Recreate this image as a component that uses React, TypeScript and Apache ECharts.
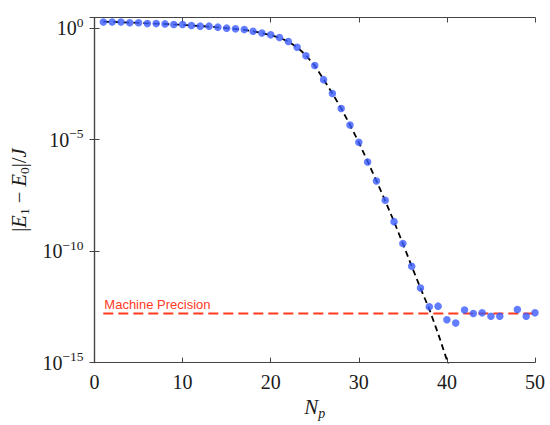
import React, { useEffect, useRef } from "react";
import * as echarts from "echarts";

// Number of parameters N_p
const npValues = [
  1, 2, 3, 4, 5, 6, 7, 8, 9, 10, 11, 12, 13, 14, 15, 16, 17, 18, 19, 20, 21, 22, 23, 24, 25,
  26, 27, 28, 29, 30, 31, 32, 33, 34, 35, 36, 37, 38, 39, 40, 41, 42, 43, 44, 45, 46, 47, 48, 49, 50,
];
// |E1 - E0| / J (blue dots); N_p = 47 has no point
const gapValues = [
  1.9, 1.9, 1.9, 1.73, 1.73, 1.6, 1.6, 1.55, 1.45, 1.45, 1.31, 1.23, 1.23, 1.11, 1.0, 0.93, 0.87,
  0.72, 0.6, 0.5, 0.38, 0.25, 0.14, 0.058, 0.021, 4.9e-3, 1.17e-3, 2.5e-4, 4.5e-5, 7.6e-6, 1.0e-6,
  1.4e-7, 1.9e-8, 2.1e-9, 2.2e-10, 2.1e-11, 2.2e-12, 3.2e-13, 3.4e-13, 8.3e-14, 5.9e-14, 2.3e-13,
  1.6e-13, 1.7e-13, 1.2e-13, 1.2e-13, null, 2.4e-13, 1.2e-13, 1.7e-13,
];
// Fit (black dashed curve)
const fitNp = [
  1, 2, 3, 4, 5, 6, 7, 8, 9, 10, 11, 12, 13, 14, 15, 16, 17, 18, 19, 20, 21, 22, 23, 24, 25, 26,
  27, 28, 29, 30, 31, 32, 33, 34, 35, 36, 37, 38, 39, 40, 41,
];
const fitValues = [
  1.95, 1.9, 1.85, 1.78, 1.72, 1.65, 1.6, 1.53, 1.46, 1.4, 1.32, 1.24, 1.17, 1.09, 1.0, 0.92, 0.84,
  0.72, 0.6, 0.49, 0.37, 0.25, 0.14, 0.06, 0.021, 5e-3, 1.2e-3, 2.5e-4, 4.6e-5, 7.5e-6, 1.05e-6,
  1.4e-7, 1.8e-8, 2.1e-9, 2.2e-10, 2.1e-11, 2.2e-12, 2.5e-13, 2.0e-14, 1.3e-15, 8e-17,
];
// Machine precision level
const precisionRange = [1, 50];
const machinePrecision = 1.6e-13;
const precisionLabel = "Machine Precision";

const xMin = 0;
const xMax = 50;
const xInterval = 10;
const yMin = 1e-15;
const yMax = 3;
const yDecadeStep = 5;

const SERIF = "Liberation Serif";
const SANS = "Liberation Sans";
const AXIS_COLOR = "#444";
const TEXT_COLOR = "#1a1a1a";
const RED = "#ff3a1e";
const BLUE = "#3b5cff";

export default function App() {
  const ref = useRef<HTMLDivElement>(null);

  useEffect(() => {
    document.body.style.margin = "0";
    const chart = echarts.init(ref.current!, null, { renderer: "svg" });

    const yLabelFormatter = (v: number) => {
      const e = Math.log10(v);
      const r = Math.round(e);
      if (Math.abs(e - r) > 1e-6 || r % yDecadeStep !== 0) return "";
      return `{b|10}{s|${r === 0 ? "0" : "\u2212" + Math.abs(r)}}`;
    };

    const tickStyle = { inside: true, length: 5, lineStyle: { color: AXIS_COLOR, width: 1 } };
    const lineStyle = { lineStyle: { color: AXIS_COLOR, width: 1.2 } };

    const option: any = {
      animation: false,
      backgroundColor: "#fff",
      grid: { left: 92, right: 15, top: 17.5, bottom: 61, containLabel: false },
      xAxis: [
        {
          type: "value",
          min: xMin,
          max: xMax,
          interval: xInterval,
          position: "bottom",
          axisLine: lineStyle,
          axisTick: tickStyle,
          splitLine: { show: false },
          axisLabel: {
            margin: 9,
            fontFamily: SERIF,
            fontSize: 20,
            color: TEXT_COLOR,
          },
          name: "{i|N}{sub|p}",
          nameLocation: "middle",
          nameGap: 30,
          nameTextStyle: {
            rich: {
              i: { fontFamily: SERIF, fontStyle: "italic", fontSize: 21, lineHeight: 26, color: TEXT_COLOR },
              sub: {
                fontFamily: SERIF,
                fontStyle: "italic",
                fontSize: 14,
                lineHeight: 16,
                verticalAlign: "bottom",
                color: TEXT_COLOR,
              },
            },
          },
        },
        {
          type: "value",
          min: xMin,
          max: xMax,
          interval: xInterval,
          position: "top",
          axisLine: lineStyle,
          axisTick: tickStyle,
          splitLine: { show: false },
          axisLabel: { show: false },
        },
      ],
      yAxis: [
        {
          type: "log",
          logBase: 10,
          min: yMin,
          max: yMax,
          interval: yDecadeStep,
          position: "left",
          axisLine: { show: true, ...lineStyle },
          axisTick: tickStyle,
          splitLine: { show: false },
          axisLabel: {
            margin: 11,
            formatter: yLabelFormatter,
            rich: {
              b: { fontFamily: SERIF, fontSize: 20, lineHeight: 26, color: TEXT_COLOR },
              s: { fontFamily: SERIF, fontSize: 13.5, lineHeight: 14, verticalAlign: "top", color: TEXT_COLOR },
            },
          },
          name: "{r||}{i|E}{sub|1}{r| \u2212 }{i|E}{sub|0}{r||/}{i|J}",
          nameLocation: "middle",
          nameGap: 62,
          nameTextStyle: {
            rich: {
              r: { fontFamily: SERIF, fontSize: 20.5, lineHeight: 26, color: TEXT_COLOR },
              i: { fontFamily: SERIF, fontStyle: "italic", fontSize: 20.5, lineHeight: 26, color: TEXT_COLOR },
              sub: {
                fontFamily: SERIF,
                fontSize: 13.5,
                lineHeight: 16,
                verticalAlign: "bottom",
                color: TEXT_COLOR,
              },
            },
          },
        },
        {
          type: "log",
          logBase: 10,
          min: yMin,
          max: yMax,
          interval: yDecadeStep,
          position: "right",
          axisLine: { show: true, ...lineStyle },
          axisTick: tickStyle,
          splitLine: { show: false },
          axisLabel: { show: false },
        },
      ],
      series: [
        {
          type: "line",
          name: "fit",
          data: fitNp.map((n, i) => [n, fitValues[i]]),
          showSymbol: false,
          symbol: "none",
          clip: true,
          lineStyle: { color: "#000", width: 1.8, type: [6, 4] },
          z: 2,
        },
        {
          type: "line",
          name: "precision",
          data: precisionRange.map((n) => [n, machinePrecision]),
          showSymbol: false,
          symbol: "none",
          lineStyle: { color: RED, width: 2, type: [10, 5] },
          z: 3,
        },
        {
          type: "scatter",
          name: "data",
          data: npValues.map((n, i) => [n, gapValues[i]]).filter((d) => d[1] != null),
          symbol: "circle",
          symbolSize: 7.5,
          itemStyle: { color: BLUE },
          z: 4,
        },
      ],
    };

    chart.setOption(option);

    // Place the "Machine Precision" annotation just above the start of the red line,
    // using the chart's own coordinate conversion.
    const p = chart.convertToPixel({ gridIndex: 0 }, [precisionRange[0], machinePrecision]) as number[];
    if (p && isFinite(p[0]) && isFinite(p[1])) {
      chart.setOption({
        graphic: [
          {
            type: "text",
            x: p[0] + 1,
            y: p[1] - 2.5,
            silent: true,
            style: {
              text: precisionLabel,
              fill: RED,
              fontFamily: SANS,
              fontSize: 13,
              align: "left",
              verticalAlign: "bottom",
            },
          },
        ],
      });
    }

    return () => chart.dispose();
  }, []);

  return <div ref={ref} style={{ width: 550, height: 425 }} />;
}
